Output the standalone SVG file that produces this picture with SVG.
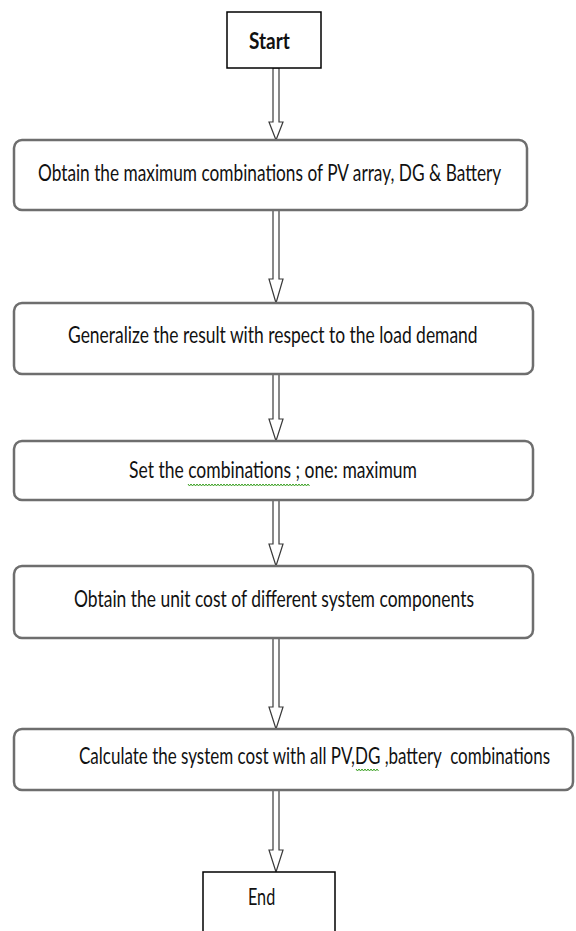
<svg xmlns="http://www.w3.org/2000/svg" width="576" height="931" viewBox="0 0 576 931">
<defs>
<style>
.proc{fill:#fff;stroke:#6e6e6e;stroke-width:2.5}
.term{fill:#fff;stroke:#000;stroke-width:1.5}
.arrow{fill:#fff;stroke:#3a3a3a;stroke-width:1.2;stroke-linejoin:miter}
.t{font-family:Lato,"Open Sans","Liberation Sans",sans-serif;font-size:23px;fill:#111;text-anchor:start}
.b{font-weight:bold}
.sq{fill:none;stroke:#3aa022;stroke-width:1}
</style>
</defs>
<rect width="576" height="931" fill="#fff"/>
<g id="connectors">
<path class="arrow" d="M273,68 L273,122 L269,122 L276,140 L283,122 L279,122 L279,68 Z"/>
<path class="arrow" d="M273,210 L273,279 L269,279 L276,303 L283,279 L279,279 L279,210 Z"/>
<path class="arrow" d="M273,374 L273,419 L269,419 L276,441 L283,419 L279,419 L279,374 Z"/>
<path class="arrow" d="M273,500 L273,544 L269,544 L276,566 L283,544 L279,544 L279,500 Z"/>
<path class="arrow" d="M273,638 L273,707 L269,707 L276,729 L283,707 L279,707 L279,638 Z"/>
<path class="arrow" d="M273,790 L273,850 L269,850 L276,872 L283,850 L279,850 L279,790 Z"/>
</g>
<g id="start">
<rect class="term" x="227" y="12" width="94" height="56"/>
<text class="t b" transform="translate(249,49) scale(0.8,1)" x="0" y="0" textLength="51" lengthAdjust="spacingAndGlyphs">Start</text>
</g>
<g id="step1">
<rect class="proc" x="14" y="140" width="513" height="70" rx="8"/>
<text class="t" transform="translate(38,181) scale(0.8,1)" x="0" y="0" textLength="579" lengthAdjust="spacingAndGlyphs">Obtain the maximum combinations of PV array, DG &amp; Battery</text>
</g>
<g id="step2">
<rect class="proc" x="14" y="303" width="519" height="71" rx="8"/>
<text class="t" transform="translate(68,343) scale(0.8,1)" x="0" y="0" textLength="512" lengthAdjust="spacingAndGlyphs">Generalize the result with respect to the load demand</text>
</g>
<g id="step3">
<rect class="proc" x="14" y="441" width="519" height="59" rx="8"/>
<text class="t" transform="translate(129,478) scale(0.8,1)" x="0" y="0" textLength="360" lengthAdjust="spacingAndGlyphs">Set the combinations ; one: maximum</text>
<path class="sq" d="M188,484 l1.5,2 l1.5,-2 l1.5,2 l1.5,-2 l1.5,2 l1.5,-2 l1.5,2 l1.5,-2 l1.5,2 l1.5,-2 l1.5,2 l1.5,-2 l1.5,2 l1.5,-2 l1.5,2 l1.5,-2 l1.5,2 l1.5,-2 l1.5,2 l1.5,-2 l1.5,2 l1.5,-2 l1.5,2 l1.5,-2 l1.5,2 l1.5,-2 l1.5,2 l1.5,-2 l1.5,2 l1.5,-2 l1.5,2 l1.5,-2 l1.5,2 l1.5,-2 l1.5,2 l1.5,-2 l1.5,2 l1.5,-2 l1.5,2 l1.5,-2 l1.5,2 l1.5,-2 l1.5,2 l1.5,-2 l1.5,2 l1.5,-2 l1.5,2 l1.5,-2 l1.5,2 l1.5,-2 l1.5,2 l1.5,-2 l1.5,2 l1.5,-2 l1.5,2 l1.5,-2 l1.5,2 l1.5,-2 l1.5,2 l1.5,-2 l1.5,2 l1.5,-2 l1.5,2 l1.5,-2 l1.5,2 l1.5,-2 l1.5,2 l1.5,-2 l1.5,2 l1.5,-2 l1.5,2 l1.5,-2 l1.5,2 l1.5,-2 l1.5,2 l1.5,-2 l1.5,2 l1.5,-2 l1.5,2 l1.5,-2 l1.5,2"/>
</g>
<g id="step4">
<rect class="proc" x="14" y="566" width="519" height="72" rx="8"/>
<text class="t" transform="translate(74,607) scale(0.8,1)" x="0" y="0" textLength="500" lengthAdjust="spacingAndGlyphs">Obtain the unit cost of different system components</text>
</g>
<g id="step5">
<rect class="proc" x="14" y="729" width="559" height="61" rx="8"/>
<text class="t" transform="translate(79,764) scale(0.7,1)" x="0" y="0" textLength="673" lengthAdjust="spacingAndGlyphs" xml:space="preserve">Calculate the system cost with all PV,DG ,battery  combinations</text>
<path class="sq" d="M356,769 l1.5,2 l1.5,-2 l1.5,2 l1.5,-2 l1.5,2 l1.5,-2 l1.5,2 l1.5,-2 l1.5,2 l1.5,-2 l1.5,2 l1.5,-2 l1.5,2 l1.5,-2 l1.5,2"/>
</g>
<g id="end">
<path class="term" d="M203,931 L203,872 L335,872 L335,931"/>
<text class="t" transform="translate(248,905) scale(0.8,1)" x="0" y="0" textLength="34" lengthAdjust="spacingAndGlyphs">End</text>
</g>
</svg>
